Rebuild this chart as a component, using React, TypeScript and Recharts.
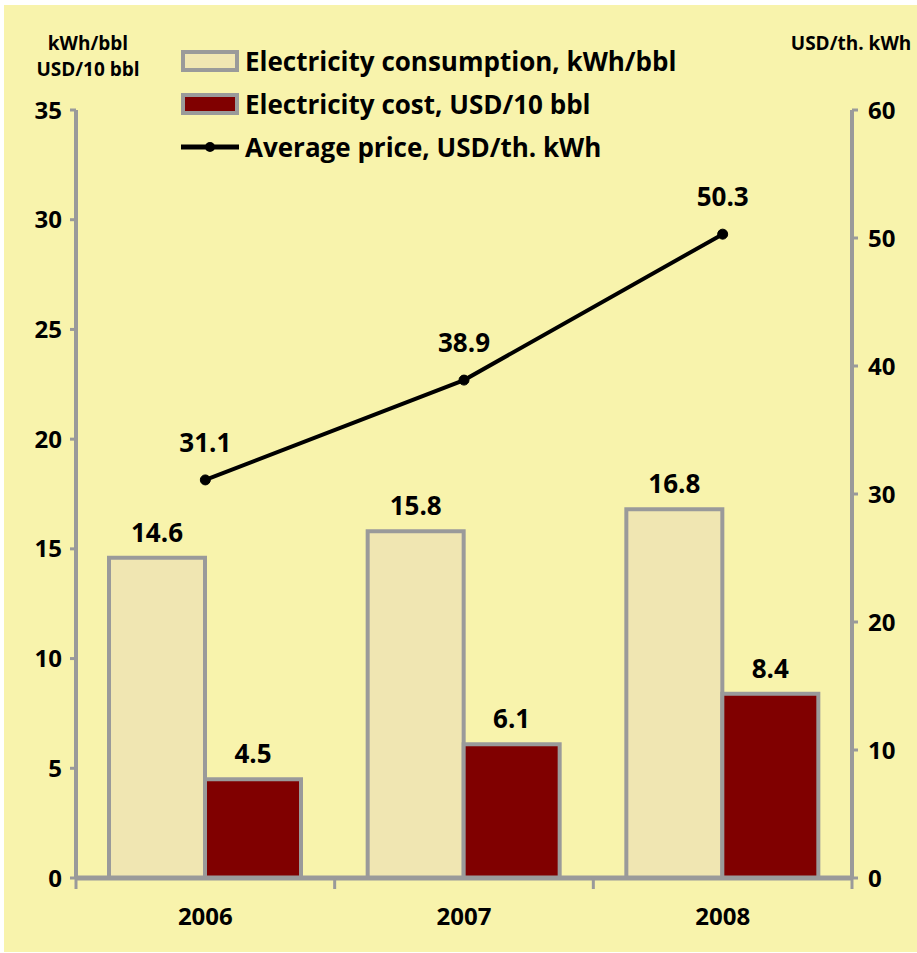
import React from 'react';
import { ComposedChart, Bar, Line, XAxis, YAxis, LabelList } from 'recharts';

const years = ['2006', '2007', '2008'];
const consumption = [14.6, 15.8, 16.8];
const cost = [4.5, 6.1, 8.4];
const avgPrice = [31.1, 38.9, 50.3];
const leftTicks = [0, 5, 10, 15, 20, 25, 30, 35];
const rightTicks = [0, 10, 20, 30, 40, 50, 60];

const data = years.map((y, i) => ({
  year: y,
  consumption: consumption[i],
  cost: cost[i],
  price: avgPrice[i],
}));

const FONT = '"Open Sans", "DejaVu Sans", sans-serif';
const GREY = '#9a9a9a';
const BG = '#f8f3ac';

const W = 917;
const H = 953;
const margin = { top: 110, right: 15, left: 26, bottom: 35 };
const yAxisW = 50;
const plotW = W - margin.left - margin.right - yAxisW * 2;
const step = plotW / years.length;

const XTick = (props: any) => {
  const { x, y, payload, index } = props;
  return (
    <g>
      <line x1={x - step / 2} x2={x - step / 2} y1={y - 8} y2={y + 3} stroke={GREY} strokeWidth={3} />
      {index === years.length - 1 && (
        <line x1={x + step / 2} x2={x + step / 2} y1={y - 8} y2={y + 3} stroke={GREY} strokeWidth={3} />
      )}
      <text x={x} y={y + 39} textAnchor="middle" fontSize={24} fontWeight="bold" fill="#000" fontFamily={FONT}>
        {payload.value}
      </text>
    </g>
  );
};

const legendRow: React.CSSProperties = { display: 'flex', alignItems: 'center', height: 43, whiteSpace: 'nowrap' };

const LegendBox = () => (
  <div style={{ position: 'absolute', left: 181, top: 39, fontFamily: FONT, fontWeight: 'bold', fontSize: 26, color: '#000' }}>
    <div style={legendRow}>
      <div style={{ width: 50, height: 14, background: '#f0e6b2', border: `4px solid ${GREY}`, marginRight: 6 }} />
      Electricity consumption, kWh/bbl
    </div>
    <div style={legendRow}>
      <div style={{ width: 50, height: 14, background: '#800000', border: `4px solid ${GREY}`, marginRight: 6 }} />
      Electricity cost, USD/10 bbl
    </div>
    <div style={legendRow}>
      <svg width={58} height={14} style={{ marginRight: 6 }}>
        <line x1={0} x2={58} y1={7} y2={7} stroke="#000" strokeWidth={5} />
        <circle cx={29} cy={7} r={5} fill="#000" />
      </svg>
      Average price, USD/th. kWh
    </div>
  </div>
);

const tickStyle = { fontSize: 24, fontWeight: 'bold', fill: '#000', fontFamily: FONT };
const labelStyle = { fontSize: 26, fontWeight: 'bold', fill: '#000', fontFamily: FONT };

export default function App() {
  return (
    <div style={{ position: 'absolute', left: 0, top: 0, width: W, height: H, background: '#fff' }}>
      <div style={{ position: 'absolute', left: 4, top: 5, width: W - 4, height: H - 6, background: BG }} />
      <div style={{ position: 'absolute', left: 0, top: 0 }}>
        <ComposedChart width={W} height={H} data={data} margin={margin} barGap={0} barCategoryGap={33}>
          <XAxis
            dataKey="year"
            axisLine={{ stroke: GREY, strokeWidth: 5 }}
            tickLine={false}
            tick={<XTick />}
            height={40}
            interval={0}
          />
          <YAxis
            yAxisId="left"
            domain={[0, 35]}
            ticks={leftTicks}
            width={yAxisW}
            axisLine={{ stroke: GREY, strokeWidth: 4 }}
            tickLine={{ stroke: GREY, strokeWidth: 3 }}
            tickSize={6}
            tickMargin={8}
            tick={tickStyle}
          />
          <YAxis
            yAxisId="right"
            orientation="right"
            domain={[0, 60]}
            ticks={rightTicks}
            width={yAxisW}
            axisLine={{ stroke: GREY, strokeWidth: 4 }}
            tickLine={{ stroke: GREY, strokeWidth: 3 }}
            tickSize={6}
            tickMargin={10}
            tick={tickStyle}
          />
          <Bar yAxisId="left" dataKey="consumption" fill="#f0e6b2" stroke={GREY} strokeWidth={4} isAnimationActive={false}>
            <LabelList dataKey="consumption" position="top" offset={16} style={labelStyle} />
          </Bar>
          <Bar yAxisId="left" dataKey="cost" fill="#800000" stroke={GREY} strokeWidth={4} isAnimationActive={false}>
            <LabelList dataKey="cost" position="top" offset={16} style={labelStyle} />
          </Bar>
          <Line
            yAxisId="right"
            dataKey="price"
            stroke="#000"
            strokeWidth={4}
            dot={{ r: 5, fill: '#000', stroke: '#000', strokeWidth: 1 }}
            isAnimationActive={false}
          >
            <LabelList dataKey="price" position="top" offset={28} style={labelStyle} />
          </Line>
        </ComposedChart>
      </div>
      <LegendBox />
      <div style={{ position: 'absolute', left: 36, top: 30, width: 104, textAlign: 'center', fontFamily: FONT, fontWeight: 'bold', fontSize: 19, lineHeight: '26px' }}>
        kWh/bbl<br />USD/10 bbl
      </div>
      <div style={{ position: 'absolute', left: 786, top: 30, width: 130, textAlign: 'center', fontFamily: FONT, fontWeight: 'bold', fontSize: 19, lineHeight: '26px', whiteSpace: 'nowrap' }}>
        USD/th. kWh
      </div>
    </div>
  );
}
